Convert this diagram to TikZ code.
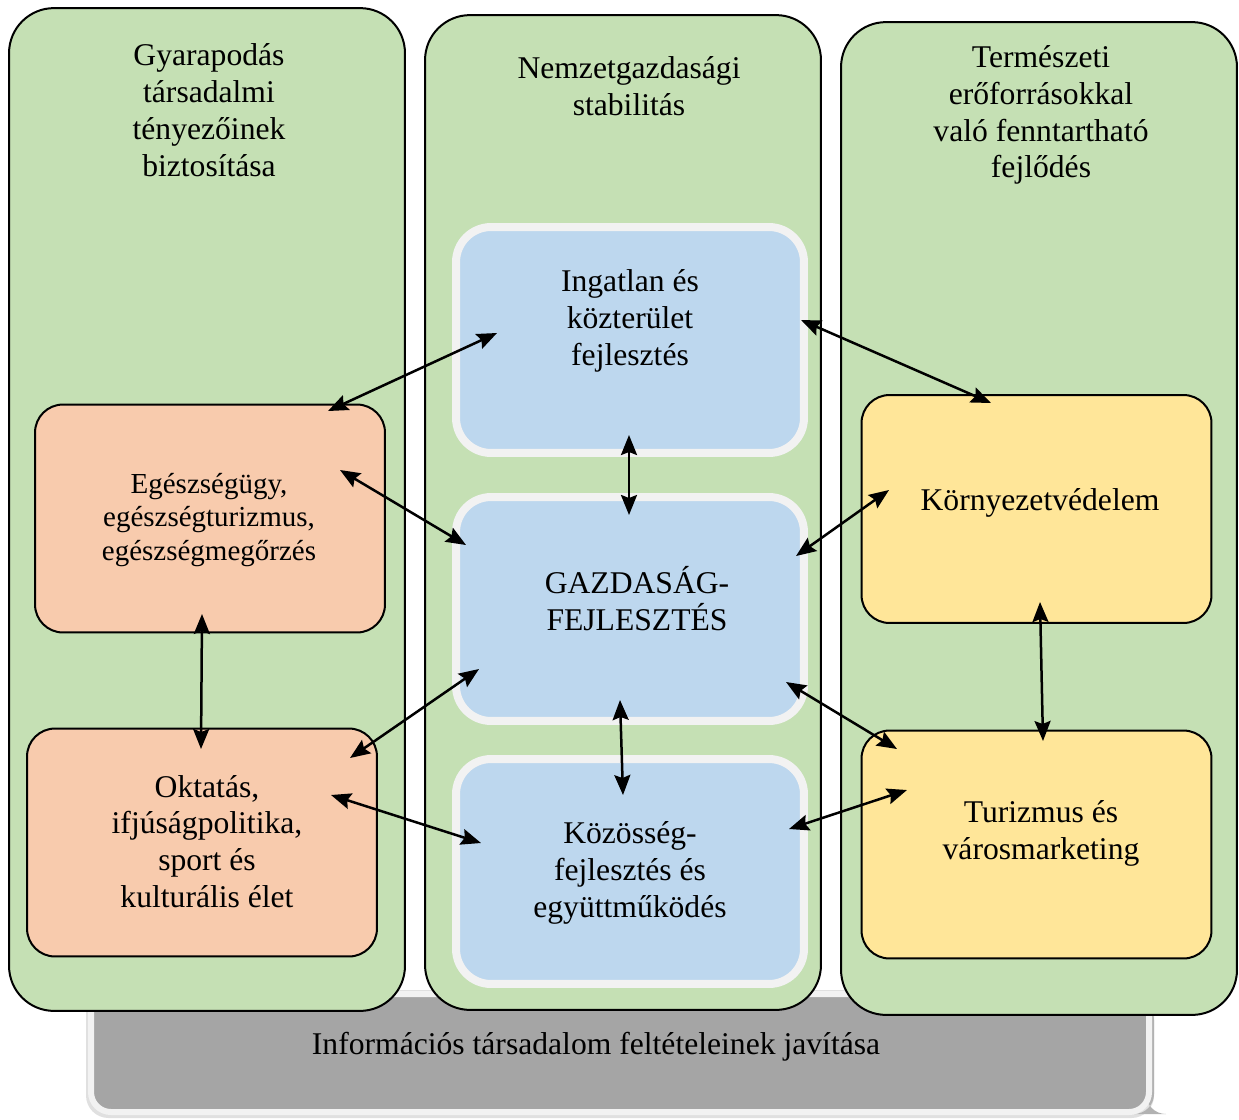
\documentclass[tikz,border=0pt]{standalone}
\usepackage{fontspec}
\setmainfont{Liberation Serif}
\usetikzlibrary{positioning, calc, arrows.meta}
\definecolor{pillar}{HTML}{C5E0B4}
\definecolor{core}{HTML}{BDD7EE}
\definecolor{social}{HTML}{F8CBAD}
\definecolor{nature}{HTML}{FFE699}
\definecolor{infobar}{HTML}{A5A5A5}
\definecolor{rim}{HTML}{F2F2F2}
\tikzset{
x=0.02cm, y=-0.02cm, % one unit is one pixel of the sketch
>={Stealth[length=0.4cm, width=0.32cm, inset=0.06cm]}, % bold arrow heads
link/.style={<->, line width=0.05cm}, % double headed connectors
pillar box/.style={draw, line width=0.04cm, fill=pillar, rounded corners=0.9cm,
  minimum width=7.92cm, inner sep=0pt},
core box/.style={draw=rim, line width=0.16cm, fill=core, rounded corners=0.7cm,
  minimum width=6.96cm, inner sep=0pt},
side box/.style={draw, line width=0.04cm, rounded corners=0.56cm,
  minimum width=7.0cm, minimum height=4.56cm, inner sep=0pt},
big text/.style={align=center, font=\fontsize{18}{21}\selectfont},
small text/.style={align=center, font=\fontsize{16.5}{19.3}\selectfont},
}
\begin{document}
\begin{tikzpicture}
  \useasboundingbox (0,0) rectangle (1239,1119);
  % information bar behind the pillars
  \fill[black!12, rounded corners=0.45cm] (86,990) rectangle (1154,1118);
  \fill[black!30, rounded corners=0.4cm] (1146,1000) rectangle (1154,1114);
  \draw[rim, line width=0.12cm, fill=infobar, rounded corners=0.4cm] (91,994) rectangle (1149,1112);
  \node[big text] (info) at (596,1047) {Információs társadalom feltételeinek javítása};

  % three pillars
  \node[pillar box, minimum height=20.06cm] (colL) at (207,509.5) {};
  \node[pillar box, minimum height=19.9cm] (colM) at (623,512.5) {};
  \node[pillar box, minimum height=19.86cm] (colR) at (1039,518.5) {};
  \node[big text] (titleL) at (209,110.5) {Gyarapodás\\társadalmi\\tényezőinek\\biztosítása};
  \node[big text] (titleM) at (629,86.5) {Nemzetgazdasági\\stabilitás};
  \node[big text] (titleR) at (1041,115) {Természeti\\erőforrásokkal\\való fenntartható\\fejlődés};

  % middle boxes
  \node[core box, minimum height=4.52cm] (ingatlan) at (630,340) {};
  \node[core box, minimum height=4.48cm] (gazd) at (630,609) {};
  \node[core box, minimum height=4.5cm] (kozosseg) at (630,871.5) {};
  \node[big text] at (630,321) {Ingatlan és\\közterület\\fejlesztés};
  \node[big text] at (637,599) {GAZDASÁG-\\FEJLESZTÉS};
  \node[big text] at (630,873) {Közösség-\\fejlesztés és\\együttműködés};

  % left and right boxes
  \node[side box, fill=social] (egesz) at (210,518.5) {};
  \node[side box, fill=social] (oktatas) at (202,842.5) {};
  \node[side box, fill=nature] (korny) at (1036.5,509) {};
  \node[side box, fill=nature] (turizmus) at (1036.5,844.5) {};
  \node[small text] at (209,520) {Egészségügy,\\egészségturizmus,\\egészségmegőrzés};
  \node[big text] at (207,841.5) {Oktatás,\\ifjúságpolitika,\\sport és\\kulturális élet};
  \node[big text] at (1040,503) {Környezetvédelem};
  \node[big text] at (1041,833) {Turizmus és\\városmarketing};

  % connectors
  \draw[link] ($(egesz)+(118,-107.5)$) -- ($(ingatlan)+(-133,-7)$);
  \draw[link] ($(egesz)+(130,-48.5)$) -- ($(gazd)+(-164,-64)$);
  \draw[link] ($(ingatlan)+(-1,95)$) -- ($(gazd)+(-1,-94)$);
  \draw[link] ($(ingatlan)+(171,-20)$) -- ($(korny)+(-45.5,-106)$);
  \draw[link] ($(gazd)+(166,-53)$) -- ($(korny)+(-147.5,-19)$);
  \draw[link] ($(egesz)+(-8,95.5)$) -- ($(oktatas)+(-1,-93.5)$);
  \draw[link] ($(oktatas)+(148,-84.5)$) -- ($(gazd)+(-151,60)$);
  \draw[link] ($(oktatas)+(129,-47.5)$) -- ($(kozosseg)+(-149,-28.5)$);
  \draw[link] ($(gazd)+(-10,91)$) -- ($(kozosseg)+(-7,-76.5)$);
  \draw[link] ($(gazd)+(156,73)$) -- ($(turizmus)+(-139.5,-95.5)$);
  \draw[link] ($(kozosseg)+(159,-42.5)$) -- ($(turizmus)+(-129.5,-54.5)$);
  \draw[link] ($(korny)+(3.5,93)$) -- ($(turizmus)+(6.5,-103.5)$);
\end{tikzpicture}
\end{document}
